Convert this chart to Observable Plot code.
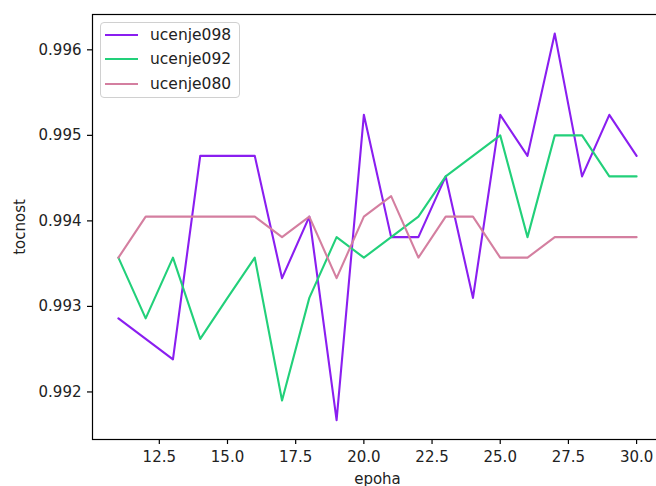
<!DOCTYPE html>
<html>
<head>
<meta charset="utf-8">
<script src="https://cdn.jsdelivr.net/npm/d3@7"></script>
<script src="https://cdn.jsdelivr.net/npm/@observablehq/plot@0.6"></script>
<style>
  html, body { margin: 0; padding: 0; background: #fff; }
  #wrap { position: relative; width: 656px; height: 486px; overflow: hidden; font-family: "DejaVu Sans", sans-serif; }
  #legend { position: absolute; left: 100px; top: 22px; width: 140px; height: 76px; border: 1px solid #d0d0d0; border-radius: 4px; background: rgba(255,255,255,0.85); box-sizing: border-box; }
  .item { position: absolute; left: 4px; height: 20px; display: flex; align-items: center; font-size: 15.5px; color: #222; }
  .swatch { display: inline-block; width: 33px; height: 0; border-top: 2px solid; margin-right: 12px; }
</style>
</head>
<body>
<div id="wrap"></div>
<script>
const epochs = [11, 12, 13, 14, 15, 16, 17, 18, 19, 20, 21, 22, 23, 24, 25, 26, 27, 28, 29, 30];
const u098 = [0.99286, 0.99262, 0.99238, 0.99476, 0.99476, 0.99476, 0.99333, 0.99405, 0.99167, 0.99524,
              0.99381, 0.99381, 0.99452, 0.99310, 0.99524, 0.99476, 0.99619, 0.99452, 0.99524, 0.99476];
const u092 = [0.99357, 0.99286, 0.99357, 0.99262, 0.99310, 0.99357, 0.99190, 0.99310, 0.99381, 0.99357,
              0.99381, 0.99405, 0.99452, 0.99476, 0.99500, 0.99381, 0.99500, 0.99500, 0.99452, 0.99452];
const u080 = [0.99357, 0.99405, 0.99405, 0.99405, 0.99405, 0.99405, 0.99381, 0.99405, 0.99333, 0.99405,
              0.99429, 0.99357, 0.99405, 0.99405, 0.99357, 0.99357, 0.99381, 0.99381, 0.99381, 0.99381];
const seriesNames = ["ucenje098", "ucenje092", "ucenje080"];
const seriesColors = ["#8a1ef0", "#22d07a", "#d47fa0"];
const xTicks = [12.5, 15.0, 17.5, 20.0, 22.5, 25.0, 27.5, 30.0];
const yTicks = [0.992, 0.993, 0.994, 0.995, 0.996];
const xLabel = "epoha";
const yLabel = "tocnost";

const seriesValues = [u098, u092, u080];
const rows = [];
seriesNames.forEach((name, i) => {
  epochs.forEach((e, j) => rows.push({series: name, epoch: e, value: seriesValues[i][j]}));
});

const chart = Plot.plot({
  width: 656,
  height: 486,
  marginLeft: 92,
  marginRight: -6,
  marginTop: 14,
  marginBottom: 47,
  style: { fontFamily: "DejaVu Sans, sans-serif", fontSize: "15px", color: "#222", background: "white" },
  x: { domain: [10.05, 30.95] },
  y: { domain: [0.991444, 0.996413] },
  color: { domain: seriesNames, range: seriesColors },
  marks: [
    Plot.line(rows, { x: "epoch", y: "value", z: "series", stroke: "series", strokeWidth: 2.1 }),
    Plot.frame({ stroke: "black", strokeWidth: 1.2 }),
    Plot.axisX({ ticks: xTicks, tickFormat: d => d.toFixed(1), tickSize: 5, tickPadding: 7, stroke: "black", strokeWidth: 1.2,
                 label: xLabel, labelAnchor: "center", labelArrow: "none", labelOffset: 44, fontSize: 15 }),
    Plot.axisY({ ticks: yTicks, tickFormat: d => d.toFixed(3), tickSize: 5, tickPadding: 6, stroke: "black", strokeWidth: 1.2,
                 label: yLabel, labelAnchor: "center", labelArrow: "none", labelOffset: 78, fontSize: 15 })
  ]
});

const wrap = document.getElementById("wrap");
wrap.appendChild(chart);

const legend = document.createElement("div");
legend.id = "legend";
seriesNames.forEach((name, i) => {
  const item = document.createElement("div");
  item.className = "item";
  item.style.top = (2 + i * 24.3) + "px";
  const sw = document.createElement("span");
  sw.className = "swatch";
  sw.style.borderTopColor = seriesColors[i];
  item.appendChild(sw);
  item.appendChild(document.createTextNode(name));
  legend.appendChild(item);
});
wrap.appendChild(legend);
</script>
</body>
</html>
